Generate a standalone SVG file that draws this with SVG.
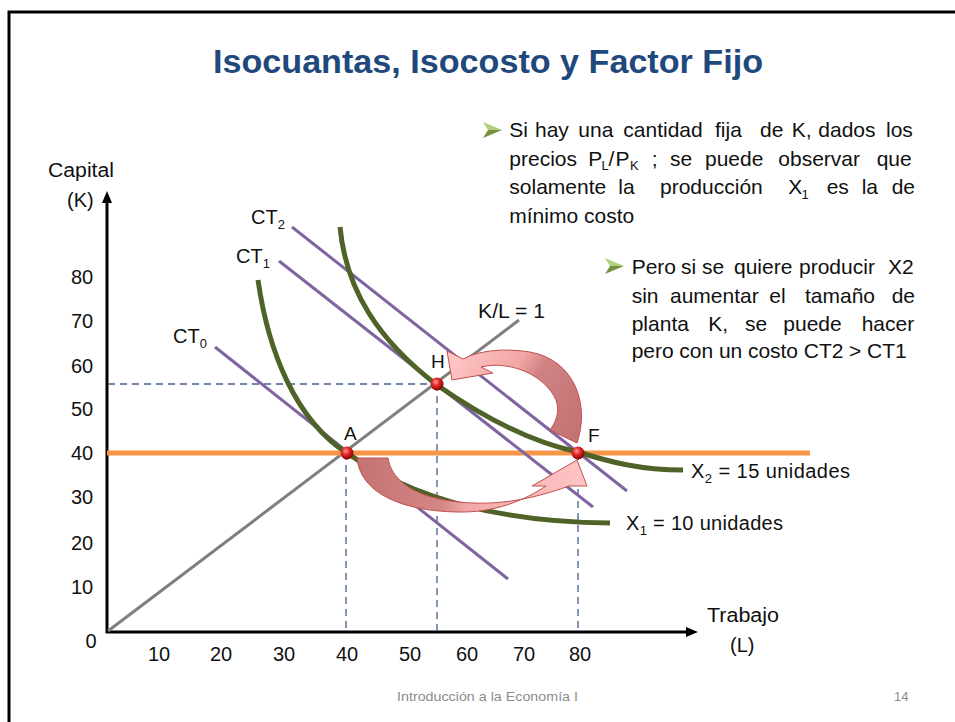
<svg xmlns="http://www.w3.org/2000/svg" width="955" height="722" viewBox="0 0 955 722">
<defs>
<style>
text{font-family:"Liberation Sans",Arial,sans-serif;fill:#111}
.lbl{font-size:19px}
.tick{font-size:20px}
.body{font-size:21px}
.sub{font-size:13px}
.ct{stroke:#8064A2;stroke-width:3;fill:none}
.iso{stroke:#4F6228;stroke-width:5;fill:none;stroke-linecap:butt}
.dash{stroke:#3F5F8F;stroke-width:1.3;stroke-dasharray:7 5;fill:none}
.arw{stroke:#C0504D;stroke-width:1}
</style>
<radialGradient id="sph" cx="0.4" cy="0.35" r="0.65">
<stop offset="0" stop-color="#FF9A9A"/>
<stop offset="0.45" stop-color="#E02828"/>
<stop offset="1" stop-color="#8A0000"/>
</radialGradient>
<linearGradient id="g1" gradientUnits="userSpaceOnUse" x1="357" y1="480" x2="590" y2="480">
<stop offset="0" stop-color="#C47272"/>
<stop offset="0.36" stop-color="#D48686"/>
<stop offset="0.47" stop-color="#F2A8A8"/>
<stop offset="1" stop-color="#FFC6C6"/>
</linearGradient>
<linearGradient id="g2" gradientUnits="userSpaceOnUse" x1="575" y1="440" x2="450" y2="360">
<stop offset="0" stop-color="#C47272"/>
<stop offset="0.45" stop-color="#D08282"/>
<stop offset="0.6" stop-color="#F2A6A6"/>
<stop offset="1" stop-color="#FFC6C6"/>
</linearGradient>
<g id="bul">
<polygon points="0,0 19,8 5,8" fill="#B3CF78"/>
<polygon points="5,8 19,8 0,16" fill="#76923C"/>
</g>
</defs>
<rect x="0" y="0" width="955" height="722" fill="#fff"/>
<path d="M9,722 V12 H955" fill="none" stroke="#000" stroke-width="3"/>

<g id="title">
<text x="213" y="73" font-size="34" font-weight="bold" style="fill:#1F497D" textLength="550" lengthAdjust="spacingAndGlyphs">Isocuantas,  Isocosto  y  Factor Fijo</text>
</g>

<g id="axes">
<line x1="107" y1="633" x2="107" y2="200" stroke="#000" stroke-width="3"/>
<polygon points="107,191 102,203 112,203" fill="#000"/>
<line x1="106" y1="632" x2="688" y2="632" stroke="#000" stroke-width="3"/>
<polygon points="698,632 686,627 686,637" fill="#000"/>
<text class="tick" x="48" y="177" textLength="66" lengthAdjust="spacingAndGlyphs">Capital</text>
<text class="tick" x="67" y="207">(K)</text>
<text class="tick" x="707" y="622" textLength="72" lengthAdjust="spacingAndGlyphs">Trabajo</text>
<text class="tick" x="730" y="652">(L)</text>
<g class="tick" text-anchor="middle">
<text x="82" y="284">80</text>
<text x="82" y="328">70</text>
<text x="82" y="373">60</text>
<text x="82" y="416">50</text>
<text x="82" y="460">40</text>
<text x="82" y="504">30</text>
<text x="82" y="550">20</text>
<text x="82" y="594">10</text>
<text x="91" y="648">0</text>
<text x="159" y="661">10</text>
<text x="221" y="661">20</text>
<text x="284" y="661">30</text>
<text x="347" y="661">40</text>
<text x="410" y="661">50</text>
<text x="467" y="661">60</text>
<text x="524" y="661">70</text>
<text x="580" y="661">80</text>
</g>
</g>

<g id="guides">
<line class="dash" x1="108" y1="384" x2="437" y2="384"/>
<line class="dash" x1="346" y1="453" x2="346" y2="631"/>
<line class="dash" x1="437" y1="384" x2="437" y2="631"/>
<line class="dash" x1="578" y1="453" x2="578" y2="631"/>
</g>

<g id="kl-ray">
<line x1="108" y1="631" x2="519" y2="320" stroke="#7F7F7F" stroke-width="3"/>
<text class="tick" x="478" y="318" textLength="67" lengthAdjust="spacingAndGlyphs">K/L = 1</text>
</g>

<g id="fixed-k">
<line x1="107" y1="453" x2="810" y2="453" stroke="#F79646" stroke-width="5"/>
</g>

<g id="isocost">
<line class="ct" x1="215" y1="347" x2="508" y2="579"/>
<line class="ct" x1="279" y1="261" x2="593" y2="507"/>
<line class="ct" x1="292" y1="227" x2="627" y2="491"/>
<text class="tick" x="173" y="343">CT<tspan class="sub" dy="5">0</tspan></text>
<text class="tick" x="236" y="263">CT<tspan class="sub" dy="5">1</tspan></text>
<text class="tick" x="251" y="224">CT<tspan class="sub" dy="5">2</tspan></text>
</g>

<g id="isoquants">
<path class="iso" d="M258,280 C268,350 295,420 347,453 C400,490 480,522 610,523"/>
<path class="iso" d="M340,227 C346,290 378,340 437,385 C480,415 530,442 578,452 C610,462 640,470 683,470"/>
<text class="tick" x="691" y="478" textLength="159" lengthAdjust="spacing">X<tspan class="sub" dy="5">2</tspan><tspan dy="-5"> = 15 unidades</tspan></text>
<text class="tick" x="626" y="530" textLength="157" lengthAdjust="spacing">X<tspan class="sub" dy="5">1</tspan><tspan dy="-5"> = 10 unidades</tspan></text>
</g>

<g id="connectors">
<path class="arw" fill="url(#g1)" d="M357,458 L388,458 C391,478 410,494 445,500 C490,508 530,500 569,486 L587,486 L577,460 L532,486 L546,486 C525,500 495,513 457,512 C400,511 360,492 357,458 Z"/>
<path class="arw" fill="url(#g2)" d="M550,430 L577,443 C590,405 575,360 530,352 C505,348 480,350 463,359 L447,351 L452,380 L493,373 L481,367 C510,360 545,375 556,400 C560,412 556,422 550,430 Z"/>
</g>

<g id="point-A">
<circle cx="347" cy="453" r="6.5" fill="url(#sph)"/>
<text class="lbl" x="344" y="440" font-size="17">A</text>
</g>
<g id="point-H">
<circle cx="437" cy="384" r="6.5" fill="url(#sph)"/>
<text class="lbl" x="431" y="368" font-size="17">H</text>
</g>
<g id="point-F">
<circle cx="578" cy="453" r="6.5" fill="url(#sph)"/>
<text class="lbl" x="588" y="442" font-size="17">F</text>
</g>

<g id="note-1">
<use href="#bul" x="483" y="122"/>
<text class="body" y="137"><tspan x="509.3">Si</tspan><tspan x="535">hay</tspan><tspan x="578.3">una</tspan><tspan x="623.3">cantidad</tspan><tspan x="715">fija</tspan><tspan x="760">de</tspan><tspan x="791.7">K,</tspan><tspan x="818.3">dados</tspan><tspan x="886">los</tspan></text>
<text class="body" y="166"><tspan x="509.3">precios</tspan><tspan x="588.3">P</tspan><tspan class="sub" x="601.5" y="170">L</tspan><tspan x="608.5" y="166">/</tspan><tspan x="615.5">P</tspan><tspan class="sub" x="630" y="170">K</tspan><tspan x="651.7" y="166">;</tspan><tspan x="670">se</tspan><tspan x="705">puede</tspan><tspan x="778.3">observar</tspan><tspan x="876.7">que</tspan></text>
<text class="body" y="194.3"><tspan x="509.3">solamente</tspan><tspan x="618.3">la</tspan><tspan x="660">producción</tspan><tspan x="788.3">X</tspan><tspan class="sub" x="801.5" y="199">1</tspan><tspan x="826.7" y="194.3">es</tspan><tspan x="861.7">la</tspan><tspan x="891.7">de</tspan></text>
<text class="body" x="509.3" y="223">mínimo costo</text>
</g>

<g id="note-2">
<use href="#bul" x="605" y="258"/>
<text class="body" y="274"><tspan x="631.7">Pero</tspan><tspan x="681">si</tspan><tspan x="702">se</tspan><tspan x="734">quiere</tspan><tspan x="799">producir</tspan><tspan x="888">X2</tspan></text>
<text class="body" y="302.7"><tspan x="631.7">sin</tspan><tspan x="670">aumentar</tspan><tspan x="769.3">el</tspan><tspan x="805">tamaño</tspan><tspan x="891.7">de</tspan></text>
<text class="body" y="330.7"><tspan x="631.7">planta</tspan><tspan x="708.3">K,</tspan><tspan x="745">se</tspan><tspan x="783.3">puede</tspan><tspan x="861.7">hacer</tspan></text>
<text class="body" x="631.7" y="358.3" textLength="275" lengthAdjust="spacing">pero con un costo CT2 &gt; CT1</text>
</g>

<g id="footer">
<text x="397" y="701" font-size="13" style="fill:#8C8C8C" textLength="181" lengthAdjust="spacingAndGlyphs">Introducción a la Economía I</text>
<text x="894" y="701" font-size="13" style="fill:#8C8C8C">14</text>
</g>
</svg>
